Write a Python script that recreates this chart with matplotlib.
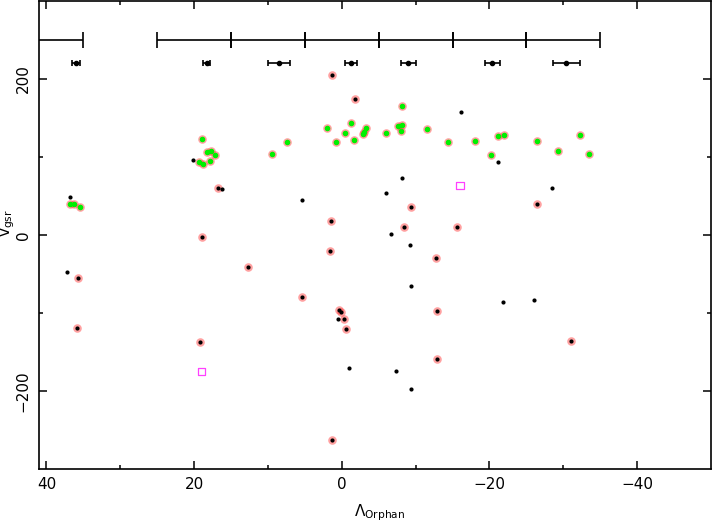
import numpy as np
import matplotlib
matplotlib.use('Agg')
import matplotlib.pyplot as plt

plt.rcParams['mathtext.default'] = 'regular'

# Zvijezde s crvenim prstenom (clanovi)
member_lam = [1.36, -1.8, 16.77, 1.45, 18.9, 1.55, -9.44, -26.5, -8.49, -15.54,
              -12.75, 35.76, 12.75, 5.38, 0.32, 0.14, -0.31, -0.63, 35.8, 19.17,
              1.31, -12.92, -12.88, -31.05]
member_v = [204.7, 174, 60.6, 18.3, -2.2, -20.9, 35.9, 39.7, 10.6, 10.3,
            -29.1, -55.1, -41, -79.1, -96.6, -98.7, -107.7, -120.1, -119.7, -137.2,
            -262.8, -97.4, -159.4, -135.6]

# Zeleni clanovi
green_lam = [1.95, -1.22, -0.45, 0.81, -1.71, 7.38, 9.49, 18.98, 18.31, 17.72,
             17.14, 19.31, 18.81, 17.9, 36.8, 36.3, 35.5, -8.22, -3.25, -2.9,
             -3.05, -5.96, -7.59, -8.13, -8.0, -11.53, -14.32, -18.07, -21.19, -21.97,
             -26.44, -29.24, -32.22, -33.49, -20.2]
green_v = [137.6, 144, 130.8, 119.2, 121.8, 119.2, 103.4, 123.5, 106, 107.7,
           102.6, 93.2, 91, 95.3, 40, 40.3, 35.5, 165.4, 136.8, 130,
           132, 130.8, 139.7, 141.4, 133.3, 136.3, 119.6, 120.1, 126.9, 128.6,
           120.9, 107.7, 128.6, 103.8, 102.6]

# Ostale zvijezde (samo crne tocke)
other_lam = [20.2, 16.27, 36.75, 5.38, -16.18, -21.19, -8.13, -6.05, -28.47, -6.73,
             -9.26, 37.15, 0.54, -0.99, -9.4, -21.83, -26.03, -7.41, -9.44]
other_v = [95.8, 58.6, 49.1, 45.3, 157.3, 94, 73.1, 54.2, 60.6, 0.9,
           -12.8, -47.8, -107.3, -170, -65.8, -85.5, -83.3, -174.8, -197.4]

square_lam = [-16.0, 18.98]
square_v = [63.6, -175.2]

# Binovi i srednje vrijednosti
bin_centers = [40, 20, 10, 0, -10, -20, -30]
bin_half = 5
bin_v = 250
mean_lam = [36.0, 18.3, 8.46, -1.26, -9.03, -20.4, -30.4]
mean_err = [0.5, 0.45, 1.5, 0.77, 1.0, 1.0, 1.8]
mean_v = 220

fig = plt.figure(figsize=(7.12, 5.26), dpi=100)
ax = fig.add_axes([39 / 712, 1 - 469 / 526, 672 / 712, 468 / 526])

ax.errorbar(bin_centers, [bin_v] * len(bin_centers), xerr=bin_half, fmt='none',
            ecolor='black', elinewidth=1.2, capsize=5.8, capthick=1.2)
ax.errorbar(mean_lam, [mean_v] * len(mean_lam), xerr=mean_err, fmt='o', color='black',
            markersize=3, elinewidth=1.2, capsize=2.5, capthick=1.2)

all_lam = member_lam + green_lam + other_lam
all_v = member_v + green_v + other_v
ax.scatter(member_lam + green_lam, member_v + green_v, s=38, color='#ff3030',
           alpha=0.45, linewidths=0, zorder=3)
ax.scatter(all_lam, all_v, s=9, color='black', linewidths=0, zorder=4)
ax.scatter(green_lam, green_v, s=16, color='#00f000', linewidths=0, zorder=5)
ax.scatter(square_lam, square_v, s=30, marker='s', facecolors='none',
           edgecolors='#ff40ff', linewidths=0.9, zorder=5)

ax.set_xlim(41, -50)
ax.set_ylim(-300, 300)
ax.set_xticks([40, 20, 0, -20, -40])
ax.set_xticks([30, 10, -10, -30], minor=True)
ax.set_yticks([200, 0, -200])
ax.set_yticks([100, -100], minor=True)
ax.set_yticklabels(['200', '0', '\u2212200'], rotation=90, va='center')
ax.tick_params(which='both', direction='in', top=True, right=True, labelsize=11, width=1.1)
ax.tick_params(which='major', length=6, pad=6)
ax.tick_params(which='minor', length=3)
for s in ax.spines.values():
    s.set_linewidth(1.2)

ax.set_xlabel(r'$\Lambda_{Orphan}$', fontsize=11, va='center')
ax.xaxis.set_label_coords(0.507, -0.094)
ax.set_ylabel(r'$v_{gsr}$', fontsize=11, va='center')
ax.yaxis.set_label_coords(-0.046, 0.526)

fig.savefig('out.png', dpi=100)
